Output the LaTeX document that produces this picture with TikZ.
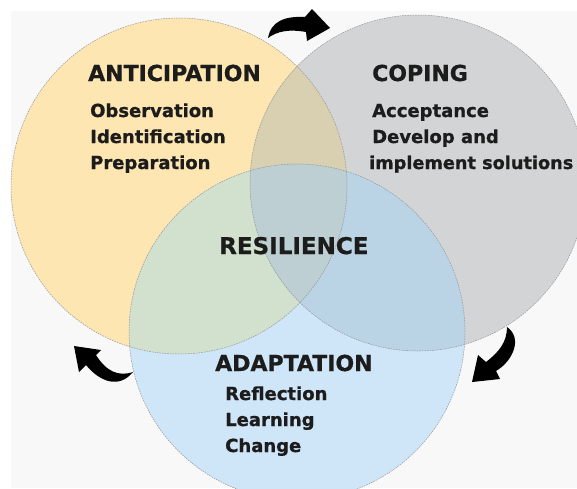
\documentclass[tikz,border=0pt]{standalone}
\usepackage{fontspec}
\setmainfont{DejaVu Sans}[BoldFeatures={FakeBold=0.8}]
\begin{document}
\begin{tikzpicture}[x=1pt,y=-1pt,
  ring/.style={draw=ringline, line width=0.5pt, dash pattern=on 1.6pt off 1pt},
  title/.style={font=\fontsize{22}{26}\selectfont\bfseries, text=ink, anchor=base west, inner sep=0pt},
  item/.style={font=\fontsize{18}{26}\selectfont\bfseries, text=ink, anchor=base west, inner sep=0pt},
  turn/.style={fill=black}]
  \definecolor{paper}{RGB}{248,248,248}
  \definecolor{ink}{RGB}{28,28,28}
  \definecolor{ringline}{RGB}{150,150,150}
  \definecolor{ycol}{RGB}{253,230,177}
  \definecolor{gcol}{RGB}{211,212,214}
  \definecolor{bcol}{RGB}{207,229,248}
  \definecolor{ygcol}{RGB}{217,207,177}
  \definecolor{ybcol}{RGB}{210,225,206}
  \definecolor{gbcol}{RGB}{186,212,229}
  \definecolor{ygbcol}{RGB}{189,207,211}

  % page and backdrop
  \clip (0,0) rectangle (577,488);
  \fill[white] (0,0) rectangle (577,488);
  \fill[paper] (11,11) rectangle (577,488);

  % circle centres
  \coordinate (Y) at (179,186);
  \coordinate (G) at (418,183);
  \coordinate (B) at (297,332);

  % single regions
  \fill[ycol] (Y) circle (168pt);
  \fill[gcol] (G) circle (168pt);
  \fill[bcol] (B) circle (168pt);
  % pairwise overlaps
  \begin{scope}
    \clip (Y) circle (168pt);
    \fill[ygcol] (G) circle (168pt);
    \fill[ybcol] (B) circle (168pt);
  \end{scope}
  \begin{scope}
    \clip (G) circle (168pt);
    \fill[gbcol] (B) circle (168pt);
    \clip (B) circle (168pt);
    \fill[ygbcol] (Y) circle (168pt);
  \end{scope}
  % outlines
  \draw[ring] (Y) circle (168pt);
  \draw[ring] (G) circle (168pt);
  \draw[ring] (B) circle (168pt);

  % curved cycle arrows
  \fill[turn] (268,38) .. controls (271,21) and (285,16) .. (305,17)
    -- (312,9) -- (330,28) -- (307,41) -- (306,32)
    .. controls (290,29) and (277,31) .. cycle;
  \fill[turn] (507,327) .. controls (523,338) and (513,361) .. (496,371)
    -- (500,379) -- (472,382) -- (478,355) -- (486,362)
    .. controls (499,352) and (507,342) .. cycle;
  \fill[turn] (133,372) .. controls (118,377) and (106,371) .. (96,355)
    -- (101,350) -- (74,346) -- (79,372) -- (86,365)
    .. controls (100,382) and (119,389) .. cycle;

  % texts
  \node[title] (ant) at (88,81) {ANTICIPATION};
  \node[item] (ant1) at (90,117) {Observation};
  \node[item] (ant2) at (90,143) {Identification};
  \node[item] (ant3) at (90,169) {Preparation};

  \node[title] (cop) at (372,81) {COPING};
  \node[item] (cop1) at (372,117) {Acceptance};
  \node[item] (cop2) at (372,143) {Develop and};
  \node[item] (cop3) at (369,169) {\fontsize{17.7}{26}\selectfont implement solutions};

  \node[title, font=\fontsize{23}{26}\selectfont\bfseries] (res) at (219,254) {RESILIENCE};

  \node[title] (ada) at (215,371) {ADAPTATION};
  \node[item] (ada1) at (225,400) {Reflection};
  \node[item] (ada2) at (225,426) {Learning};
  \node[item] (ada3) at (225,452) {Change};
\end{tikzpicture}
\end{document}
